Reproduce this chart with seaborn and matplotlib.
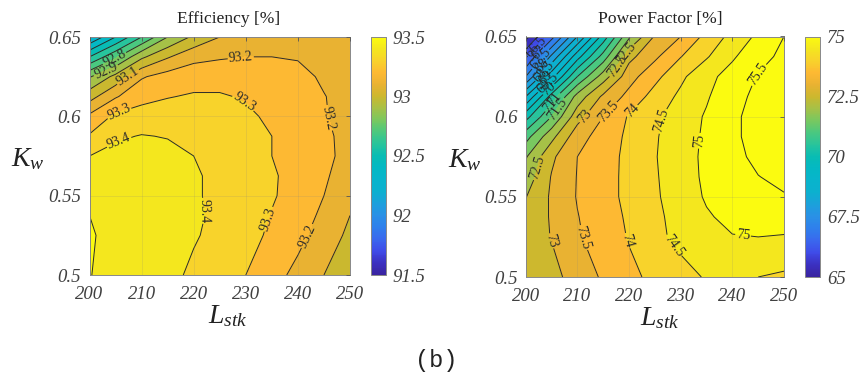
import numpy as np
import matplotlib
matplotlib.use('Agg')
import matplotlib.pyplot as plt
from matplotlib.cm import ScalarMappable
from matplotlib.colors import Normalize
import seaborn as sns

L_STK = [200, 205, 210, 215, 220, 225, 230, 235, 240, 245, 250]
K_W = [0.5, 0.525, 0.5375, 0.55, 0.5625, 0.575, 0.5875, 0.6, 0.6125, 0.625, 0.6375, 0.65]

EFFICIENCY = [
    [93.503, 93.47, 93.46, 93.43, 93.38, 93.34, 93.30, 93.24, 93.17, 93.10, 93.04],
    [93.51, 93.47, 93.47, 93.45, 93.41, 93.37, 93.34, 93.28, 93.23, 93.15, 93.08],
    [93.50, 93.47, 93.47, 93.455, 93.415, 93.38, 93.345, 93.295, 93.245, 93.18, 93.10],
    [93.485, 93.47, 93.47, 93.45, 93.41, 93.38, 93.35, 93.31, 93.26, 93.20, 93.13],
    [93.45, 93.455, 93.465, 93.45, 93.41, 93.38, 93.35, 93.31, 93.27, 93.215, 93.145],
    [93.40, 93.43, 93.45, 93.43, 93.40, 93.38, 93.35, 93.30, 93.27, 93.23, 93.16],
    [93.31, 93.385, 93.405, 93.395, 93.375, 93.365, 93.345, 93.30, 93.265, 93.225, 93.16],
    [93.22, 93.32, 93.34, 93.35, 93.35, 93.34, 93.32, 93.28, 93.25, 93.21, 93.15],
    [93.06, 93.19, 93.27, 93.295, 93.31, 93.31, 93.29, 93.265, 93.25, 93.205, 93.15],
    [92.89, 93.03, 93.19, 93.24, 93.26, 93.26, 93.27, 93.26, 93.24, 93.18, 93.14],
    [92.60, 92.78, 92.98, 93.09, 93.17, 93.19, 93.20, 93.20, 93.19, 93.16, 93.13],
    [92.30, 92.50, 92.70, 92.90, 93.02, 93.10, 93.14, 93.16, 93.16, 93.15, 93.12],
]
POWER_FACTOR = [
    [72.65, 72.85, 73.20, 73.57, 73.90, 74.10, 74.30, 74.55, 74.65, 74.50, 74.42],
    [72.70, 73.02, 73.44, 73.75, 74.03, 74.35, 74.66, 74.85, 74.98, 75.00, 74.97],
    [72.62, 73.05, 73.48, 73.78, 74.07, 74.38, 74.70, 74.95, 75.12, 75.20, 75.22],
    [72.48, 73.07, 73.53, 73.82, 74.12, 74.43, 74.75, 75.05, 75.25, 75.38, 75.47],
    [72.20, 73.03, 73.52, 73.82, 74.12, 74.45, 74.78, 75.09, 75.32, 75.49, 75.60],
    [71.95, 72.90, 73.50, 73.80, 74.12, 74.47, 74.80, 75.10, 75.38, 75.60, 75.70],
    [71.30, 72.35, 73.30, 73.72, 74.10, 74.45, 74.78, 75.08, 75.42, 75.65, 75.75],
    [70.30, 71.50, 72.80, 73.50, 74.05, 74.40, 74.75, 75.05, 75.42, 75.65, 75.75],
    [69.00, 70.70, 72.20, 73.10, 73.65, 74.20, 74.60, 74.95, 75.33, 75.62, 75.75],
    [67.50, 69.30, 71.00, 72.25, 73.30, 73.85, 74.40, 74.85, 75.20, 75.53, 75.70],
    [66.40, 68.10, 69.80, 71.20, 72.85, 73.40, 73.98, 74.45, 74.93, 75.35, 75.60],
    [65.30, 66.80, 68.50, 70.20, 71.90, 73.05, 73.50, 74.15, 74.65, 75.10, 75.50],
]
X_TICKS = [200, 210, 220, 230, 240, 250]
Y_TICKS = [0.5, 0.55, 0.6, 0.65]
Y_LABELS = ['0.5', '0.55', '0.6', '0.65']
EFF_CBAR = [91.5, 92, 92.5, 93, 93.5]
PF_CBAR = [65, 67.5, 70, 72.5, 75]

W, H = 867, 387

sns.set_theme(style='white')
plt.rcParams['font.family'] = ['Liberation Serif', 'DejaVu Serif']
plt.rcParams['mathtext.fontset'] = 'custom'
plt.rcParams['mathtext.it'] = 'Liberation Serif:italic'
plt.rcParams['mathtext.rm'] = 'Liberation Serif'

parula = sns.blend_palette(
    ['#3a24a0', '#3b30c0', '#3f4be8', '#3a68ee', '#2f7fec', '#2a90e6', '#1ca0dc',
     '#0cb0cf', '#08b4cc', '#04b8c4', '#08bcb4', '#28c49c', '#4ac880', '#78c860',
     '#a4c148', '#cbb82e', '#e9b232', '#fdb933', '#f8d22b', '#f4e61f', '#fbfb10'],
    n_colors=256, as_cmap=True)


def px_axes(fig, x0, x1, y0, y1):
    return fig.add_axes([x0 / W, 1 - y1 / H, (x1 - x0) / W, (y1 - y0) / H])


def draw_panel(fig, box, cbox, z, levels, vmin, vmax, cticks, title, title_x, manual):
    ax = px_axes(fig, *box)
    cax = px_axes(fig, *cbox)
    norm = Normalize(vmin, vmax)
    fill_colors = [parula(norm(v)) for v in levels[:-1]]
    ax.contourf(L_STK, K_W, z, levels=levels, colors=fill_colors)
    lines = ax.contour(L_STK, K_W, z, levels=levels, colors='#2a2a2a', linewidths=0.7)
    ax.clabel(lines, fmt='%g', fontsize=10, inline=True, inline_spacing=1, manual=manual)

    ax.set_xlim(200, 250)
    ax.set_ylim(0.5, 0.65)
    ax.set_xticks(X_TICKS, [str(t) for t in X_TICKS], fontstyle='italic')
    ax.set_yticks(Y_TICKS, Y_LABELS, fontstyle='italic')
    ax.grid(True, color='#808080', alpha=0.16, linewidth=0.7)
    ax.set_axisbelow(False)
    ax.tick_params(direction='in', length=3, width=0.6, color='#555555', labelcolor='#404040',
                   labelsize=13.5, top=True, right=True)
    ax.tick_params(axis='x', pad=8)
    ax.tick_params(axis='y', pad=6)
    for sp in ax.spines.values():
        sp.set_color('#888888')
        sp.set_linewidth(0.7)
    ax.set_title(title, fontsize=12.6, color='#222222', pad=10, x=title_x)
    ax.set_xlabel(r'$L_{stk}$', fontsize=20, color='#222222', x=title_x, labelpad=0)
    ax.set_ylabel(r'$K_w$', fontsize=20, color='#222222', rotation=0, va='center')
    ax.yaxis.set_label_coords(-0.235, 0.485)

    cb = fig.colorbar(ScalarMappable(norm=norm, cmap=parula), cax=cax, ticks=cticks)
    cb.ax.set_yticks(cticks, [f'{t:g}' for t in cticks], fontstyle='italic')
    cb.ax.tick_params(direction='in', length=3, width=0.6, color='#555555', labelcolor='#404040',
                      labelsize=13.5, pad=5)
    cb.outline.set_edgecolor('#888888')
    cb.outline.set_linewidth(0.7)
    return ax


def main():
    fig = plt.figure(figsize=(W / 100, H / 100), dpi=100)

    eff_levels = list(np.arange(91.5, 93.55, 0.1)) + [94.0]
    eff_manual = [(205, 0.635), (203, 0.63), (207, 0.627), (205.5, 0.604), (229, 0.638),
                  (206, 0.5805), (229.5, 0.608), (247, 0.6), (221, 0.54), (234.5, 0.535), (241.5, 0.525)]
    draw_panel(fig, (89.5, 350, 37, 275), (371, 386, 37, 275),
               np.array(EFFICIENCY), eff_levels, 91.5, 93.5, EFF_CBAR, 'Efficiency [%]', 0.532, eff_manual)

    pf_levels = list(np.arange(65, 76, 0.5)) + [77.0]
    pf_manual = [(202, 0.644), (202.4, 0.64), (202.8, 0.636), (203.2, 0.632), (203.6, 0.628), (204, 0.624),
                 (204.4, 0.62), (204.8, 0.616), (205.2, 0.612), (205.6, 0.608), (206, 0.605),
                 (219, 0.64), (218, 0.631), (202.5, 0.568), (211.5, 0.6), (216, 0.603), (220.5, 0.604),
                 (227, 0.597), (233.5, 0.585), (246, 0.624), (204.5, 0.522), (211.5, 0.525), (219, 0.522),
                 (228, 0.518), (242, 0.524)]
    draw_panel(fig, (525.7, 784, 36.5, 277), (805, 820, 36.5, 277),
               np.array(POWER_FACTOR), pf_levels, 65, 75, PF_CBAR, 'Power Factor [%]', 0.52, pf_manual)

    fig.text(436 / W, 1 - 360 / H, '(b)', fontsize=17, family='Liberation Mono', color='#222222',
             ha='center', va='center')
    fig.savefig('out.png', dpi=100)


if __name__ == '__main__':
    main()
